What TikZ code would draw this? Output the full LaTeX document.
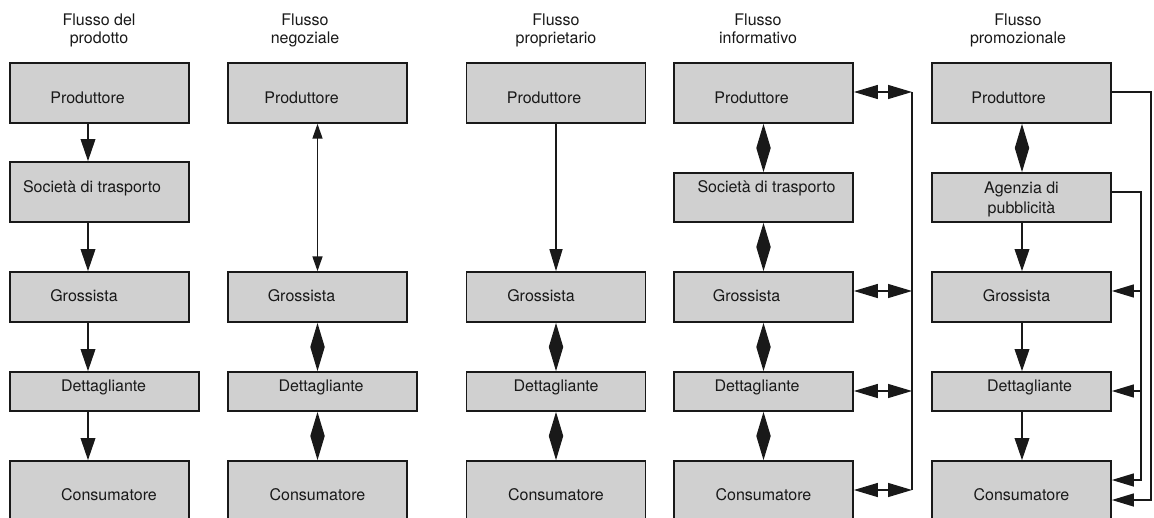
\documentclass[tikz,border=0pt]{standalone}
\usepackage{fontspec}
\setmainfont{TeX Gyre Heros}
\usetikzlibrary{arrows.meta}
\definecolor{boxfill}{RGB}{208,208,208}
\definecolor{ink}{RGB}{25,25,25}

\begin{document}
\begin{tikzpicture}[x=0.75pt,y=-0.75pt,
  box/.style={draw=ink, fill=boxfill, line width=1.3pt, inner sep=0pt},
  dim/.style 2 args={minimum width=#1*0.75pt, minimum height=#2*0.75pt},
  txt/.style={font=\fontsize{12}{14}\selectfont, text=ink, inner sep=0pt, anchor=base},
  hdr/.style={font=\fontsize{12}{13.5}\selectfont, text=ink, inner sep=0pt, anchor=base},
  link/.style={draw=ink, line width=1pt},
  fwd/.style={link, -{Triangle[length=16.5pt,width=11pt]}},
  side/.style={link, -{Triangle[length=16.5pt,width=9.75pt]}},
  dia/.style={link, {Triangle[length=18pt,width=10.5pt]}-{Triangle[length=18pt,width=10.5pt]}},
  thin2/.style={link, {Triangle[length=11pt,width=7.5pt]}-{Triangle[length=11pt,width=7.5pt]}}
]
\useasboundingbox (0,0) rectangle (1154,518);
\clip (0,0) rectangle (1154,518);
\fill[white] (0,0) rectangle (1154,518);

% column headings
\node[hdr] (h1) at (99,25)   {\begin{tabular}[t]{@{}c@{}}Flusso del\\prodotto\end{tabular}};
\node[hdr] (h2) at (305,25)  {\begin{tabular}[t]{@{}c@{}}Flusso\\negoziale\end{tabular}};
\node[hdr] (h3) at (556,25)  {\begin{tabular}[t]{@{}c@{}}Flusso\\proprietario\end{tabular}};
\node[hdr] (h4) at (758,25)  {\begin{tabular}[t]{@{}c@{}}Flusso\\informativo\end{tabular}};
\node[hdr] (h5) at (1018,25) {\begin{tabular}[t]{@{}c@{}}Flusso\\promozionale\end{tabular}};

% arrow axes of the columns
\coordinate (ax1) at (88,0);
\coordinate (ax2) at (317.5,0);
\coordinate (ax3) at (556,0);
\coordinate (ax4) at (763.5,0);
\coordinate (ax5) at (1022,0);

% ---- column 1: product flow
\node[box, dim={179}{60}] (p1) at (99.5,93) {};
\node[txt] (p1t) at ([shift={(-12,10)}]p1.center) {Produttore};
\node[box, dim={179}{60}] (s1) at (99.5,192) {};
\node[txt] (s1t) at ([shift={(-7.5,0.7)}]s1.center) {Società di trasporto};
\node[box, dim={179}{50}] (g1) at (99.5,297) {};
\node[txt] (g1t) at ([shift={(-15.5,4)}]g1.center) {Grossista};
\node[box, dim={189}{39}] (d1) at (104.5,391.5) {};
\node[txt] (d1t) at ([shift={(-1,0.2)}]d1.center) {Dettagliante};
\node[box, dim={179}{70}] (c1) at (99.5,496) {};
\node[txt] (c1t) at ([shift={(9.5,4.7)}]c1.center) {Consumatore};

\draw[fwd] (p1.south -| ax1) -- (s1.north -| ax1);
\draw[fwd] (s1.south -| ax1) -- (g1.north -| ax1);
\draw[fwd] (g1.south -| ax1) -- (d1.north -| ax1);
\draw[fwd] (d1.south -| ax1) -- (c1.north -| ax1);

% ---- column 2: negotiation flow
\node[box, dim={179}{60}] (p2) at (317.5,93) {};
\node[txt] (p2t) at ([shift={(-16,10)}]p2.center) {Produttore};
\node[box, dim={179}{50}] (g2) at (317.5,297) {};
\node[txt] (g2t) at ([shift={(-16,4)}]g2.center) {Grossista};
\node[box, dim={189}{39}] (d2) at (322.5,391.5) {};
\node[txt] (d2t) at ([shift={(-1.5,0.2)}]d2.center) {Dettagliante};
\node[box, dim={179}{70}] (c2) at (317.5,496) {};
\node[txt] (c2t) at ([shift={(0,4.7)}]c2.center) {Consumatore};

\draw[thin2] (p2.south -| ax2) -- (g2.north -| ax2);
\draw[dia] (g2.south -| ax2) -- (d2.north -| ax2);
\draw[dia] (d2.south -| ax2) -- (c2.north -| ax2);

% ---- column 3: ownership flow
\node[box, dim={179}{60}] (p3) at (556,93) {};
\node[txt] (p3t) at ([shift={(-12,10)}]p3.center) {Produttore};
\node[box, dim={179}{50}] (g3) at (556,297) {};
\node[txt] (g3t) at ([shift={(-15,4)}]g3.center) {Grossista};
\node[box, dim={179}{39}] (d3) at (556,391.5) {};
\node[txt] (d3t) at ([shift={(0,0.2)}]d3.center) {Dettagliante};
\node[box, dim={179}{70}] (c3) at (556,496) {};
\node[txt] (c3t) at ([shift={(0,4.7)}]c3.center) {Consumatore};

\draw[side] (p3.south -| ax3) -- (g3.north -| ax3);
\draw[dia] (g3.south -| ax3) -- (d3.north -| ax3);
\draw[dia] (d3.south -| ax3) -- (c3.north -| ax3);

% ---- column 4: information flow
\node[box, dim={179}{60}] (p4) at (763.5,93) {};
\node[txt] (p4t) at ([shift={(-12,10)}]p4.center) {Produttore};
\node[box, dim={179}{49}] (s4) at (763.5,197.5) {};
\node[txt] (s4t) at ([shift={(3,-4.8)}]s4.center) {Società di trasporto};
\node[box, dim={179}{50}] (g4) at (763.5,297) {};
\node[txt] (g4t) at ([shift={(-17,4)}]g4.center) {Grossista};
\node[box, dim={179}{39}] (d4) at (763.5,391.5) {};
\node[txt] (d4t) at ([shift={(-6.5,0.2)}]d4.center) {Dettagliante};
\node[box, dim={179}{70}] (c4) at (763.5,496) {};
\node[txt] (c4t) at ([shift={(0,4.7)}]c4.center) {Consumatore};

\draw[dia] (p4.south -| ax4) -- (s4.north -| ax4);
\draw[dia] (s4.south -| ax4) -- (g4.north -| ax4);
\draw[dia] (g4.south -| ax4) -- (d4.north -| ax4);
\draw[dia] (d4.south -| ax4) -- (c4.north -| ax4);

% shared return line of the information flow
\coordinate (i1) at (912,92);
\coordinate (i2) at (912,291);
\coordinate (i3) at (912,391);
\coordinate (i4) at (912,490);
\draw[link] (i1) -- (i4);
\draw[dia] (p4.east |- i1) -- (i1);
\draw[dia] (g4.east |- i2) -- (i2);
\draw[dia] (d4.east |- i3) -- (i3);
\draw[dia] (c4.east |- i4) -- (i4);

% ---- column 5: promotion flow
\node[box, dim={179}{60}] (p5) at (1021.5,93) {};
\node[txt] (p5t) at ([shift={(-13,10)}]p5.center) {Produttore};
\node[box, dim={179}{49}] (a5) at (1021.5,197.5) {};
\node[txt, font=\fontsize{12}{15.5}\selectfont] (a5t) at ([shift={(0,-4.2)}]a5.center)
  {\begin{tabular}[t]{@{}c@{}}Agenzia di\\pubblicità\end{tabular}};
\node[box, dim={179}{50}] (g5) at (1021.5,297) {};
\node[txt] (g5t) at ([shift={(-5,4)}]g5.center) {Grossista};
\node[box, dim={179}{39}] (d5) at (1021.5,391.5) {};
\node[txt] (d5t) at ([shift={(8,0.2)}]d5.center) {Dettagliante};
\node[box, dim={179}{70}] (c5) at (1021.5,496) {};
\node[txt] (c5t) at ([shift={(0,4.7)}]c5.center) {Consumatore};

\draw[dia] (p5.south -| ax5) -- (a5.north -| ax5);
\draw[fwd] (a5.south -| ax5) -- (g5.north -| ax5);
\draw[fwd] (g5.south -| ax5) -- (d5.north -| ax5);
\draw[fwd] (d5.south -| ax5) -- (c5.north -| ax5);

% outer line: producer straight to consumer
\coordinate (o1) at (1151,92);
\coordinate (o2) at (1151,500);
\draw[side] (p5.east |- o1) -- (o1) -- (o2) -- (c5.east |- o2);

% inner line: agency to the whole chain
\coordinate (n1) at (1141,192);
\coordinate (n2) at (1141,291);
\coordinate (n3) at (1141,391);
\coordinate (n4) at (1141,480);
\draw[side] (a5.east |- n1) -- (n1) -- (n4) -- (c5.east |- n4);
\draw[side] (n2) -- (g5.east |- n2);
\draw[side] (n3) -- (d5.east |- n3);
\end{tikzpicture}
\end{document}
